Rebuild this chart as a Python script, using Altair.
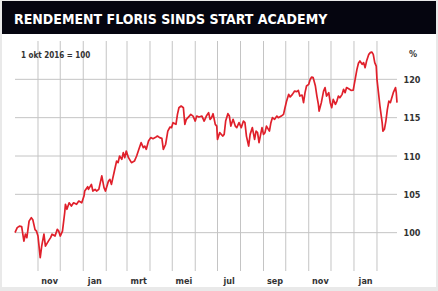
import json
import altair as alt
import pandas as pd

# ---- data ----
title_text = "RENDEMENT FLORIS SINDS START ACADEMY"
index_note = "1 okt 2016 = 100"
start_date = "2016-10-01"

days = [0, 3, 6, 9, 12, 14, 16, 19, 22, 24, 27, 29, 31, 34, 36, 39, 41, 45, 48, 50,
        54, 57, 59, 61, 64, 67, 68, 70, 73, 76, 79, 83, 86, 90, 93, 94, 98, 99, 103, 105,
        108, 110, 113, 117, 120, 122, 126, 128, 130, 134, 137, 139, 141, 144, 146, 148, 150, 153, 157, 161,
        164, 167, 170, 173, 175, 177, 180, 183, 186, 189, 192, 195, 198, 200, 203, 206, 209, 211, 213, 217,
        219, 221, 224, 227, 229, 231, 235, 237, 240, 243, 245, 248, 252, 255, 258, 261, 263, 265, 267, 270,
        272, 273, 276, 280, 282, 284, 287, 289, 291, 294, 297, 299, 302, 305, 308, 310, 312, 315, 317, 320,
        323, 325, 327, 329, 333, 335, 337, 339, 343, 345, 347, 350, 353, 355, 359, 362, 364, 366, 369, 371,
        374, 377, 380, 382, 384, 387, 389, 391, 393, 396, 398, 400, 402, 405, 407, 409, 410, 413, 416, 418,
        420, 423, 425, 427, 429, 432, 434, 436, 438, 441, 443, 445, 447, 451, 453, 456, 459, 461, 463, 465,
        468, 470, 472, 474, 477, 479, 481, 483, 485, 487, 488, 490, 492, 495, 496, 498, 500, 502, 504, 506,
        508, 510, 513, 514, 515]
values = [100.0, 100.65, 100.86, 100.8, 98.9, 99.8, 99.35, 101.5, 101.96, 101.7, 100.4, 100.2, 99.56, 96.74, 98.25, 99.8, 98.25, 98.9, 99.35, 99.8,
          99.56, 100.43, 100.2, 99.56, 100.2, 102.6, 103.7, 103.05, 103.9, 103.47, 103.9, 103.7, 104.12, 103.9, 104.77, 105.43, 106.0, 105.65, 106.3, 105.43,
          105.65, 105.43, 105.65, 107.4, 105.87, 105.43, 106.73, 106.95, 106.3, 108.04, 109.34, 109.13, 110.0, 109.56, 110.44, 109.78, 110.65, 109.78, 109.13, 109.34,
          110.0, 110.87, 111.74, 111.09, 111.3, 110.87, 111.95, 112.4, 112.26, 112.4, 112.6, 112.4, 112.3, 110.87, 111.5, 113.25, 113.78, 113.7, 114.35, 114.13,
          115.43, 116.3, 116.52, 116.3, 114.13, 114.78, 115.21, 115.43, 115.21, 114.56, 115.21, 115.08, 115.21, 114.56, 115.21, 115.66, 114.78, 115.0, 115.52, 114.13,
          113.9, 112.17, 113.05, 112.6, 112.82, 114.56, 115.52, 115.21, 113.9, 114.78, 113.9, 113.7, 114.35, 113.7, 114.56, 114.35, 112.6, 111.3, 112.82, 113.7,
          112.17, 113.25, 113.05, 111.74, 113.7, 112.82, 113.05, 113.9, 113.25, 114.35, 115.0, 114.78, 115.21, 115.0, 115.21, 115.43, 116.3, 117.1, 118.04, 117.7,
          118.04, 118.47, 118.4, 118.56, 117.82, 117.95, 116.96, 118.26, 119.13, 119.35, 120.0, 120.3, 120.22, 119.13, 117.82, 116.74, 115.86, 116.96, 118.47, 118.92,
          117.82, 118.26, 116.96, 116.3, 117.39, 116.74, 117.17, 117.82, 117.6, 118.04, 118.7, 118.26, 118.92, 118.7, 118.56, 118.6, 120.22, 121.3, 122.09, 122.39,
          121.96, 122.18, 121.52, 122.39, 123.26, 123.48, 123.56, 123.26, 122.18, 121.73, 120.0, 118.26, 116.52, 114.35, 113.25, 113.48, 114.56, 116.09, 117.17, 116.96,
          117.61, 118.26, 118.92, 118.26, 116.96]

y_ticks = [100, 105, 110, 115, 120]
month_labels = ["jan", "feb", "mrt", "apr", "mei", "jun", "jul", "aug", "sep", "okt", "nov", "dec"]
label_dates = ["2016-11-16", "2017-01-16", "2017-03-16", "2017-05-16",
               "2017-07-16", "2017-09-16", "2017-11-16", "2018-01-16"]
grid_months = ["2016-11-01", "2016-12-01", "2017-01-01", "2017-02-01", "2017-03-01",
               "2017-04-01", "2017-05-01", "2017-06-01", "2017-07-01", "2017-08-01",
               "2017-09-01", "2017-10-01", "2017-11-01", "2017-12-01", "2018-01-01",
               "2018-02-01"]

# ---- build ----
df = pd.DataFrame({
    "date": (pd.Timestamp(start_date) + pd.to_timedelta(days, unit="D")).strftime("%Y-%m-%dT00:00:00"),
    "value": values,
})
grid_df = pd.DataFrame({"date": [d + "T00:00:00" for d in grid_months]})
ygrid_df = pd.DataFrame({"v": y_ticks})

W, H = 382, 230
FONT = "DejaVu Sans Condensed, Liberation Sans Narrow, Roboto, sans-serif"
RED = "#e0202b"
GRID = "#c4c4c4"
TXT = "#333333"

def dt(s):
    y, m, d = [int(p) for p in s.split("-")]
    return alt.DateTime(year=y, month=m, date=d)

x_scale = alt.Scale(domain=[dt("2016-10-01"), dt("2018-02-28")], nice=False)
y_scale = alt.Scale(domain=[95, 125], nice=False, zero=False)

one = alt.Data(values=[{}])

frame = alt.Chart(one).mark_rect(color="white").encode(
    x=alt.value(-13), x2=alt.value(421), y=alt.value(-39), y2=alt.value(246))
bar = alt.Chart(one).mark_rect(color="#05050f").encode(
    x=alt.value(-13), x2=alt.value(421), y=alt.value(-40), y2=alt.value(-7))
title = alt.Chart(one).mark_text(
    text=title_text, align="left", baseline="alphabetic", font=FONT,
    fontSize=14, fontWeight="bold", color="white").encode(
    x=alt.value(-1), y=alt.value(-17))

vgrid = alt.Chart(grid_df).mark_rule(color=GRID, strokeWidth=1).encode(
    x=alt.X("date:T", scale=x_scale),
    y=alt.value(0), y2=alt.value(H))
hgrid = alt.Chart(ygrid_df).mark_rule(color=GRID, strokeWidth=1).encode(
    y=alt.Y("v:Q", scale=y_scale),
    x=alt.value(0), x2=alt.value(W))

label_expr = json.dumps(month_labels) + "[month(datum.value)]"

line = alt.Chart(df).mark_line(color=RED, strokeWidth=1.7, strokeJoin="round").encode(
    x=alt.X("date:T", scale=x_scale, title=None,
            axis=alt.Axis(values=[dt(d) for d in label_dates], labelExpr=label_expr,
                          grid=False, domain=False, ticks=False, labelPadding=5,
                          labelFont=FONT, labelFontSize=9, labelFontWeight="bold",
                          labelColor=TXT, labelAlign="center", labelBaseline="top",
                          zindex=1)),
    y=alt.Y("value:Q", scale=y_scale, title=None,
            axis=alt.Axis(orient="right", values=y_ticks, grid=False, domain=False,
                          ticks=False, labelPadding=6, labelFont=FONT, labelFontSize=9,
                          labelFontWeight="bold", labelColor=TXT, labelAlign="left",
                          zindex=1)),
)

note = alt.Chart(one).mark_text(
    text=index_note, align="left", baseline="alphabetic", font=FONT,
    fontSize=8, fontWeight="bold", color=TXT).encode(x=alt.value(6), y=alt.value(16.5))
pct = alt.Chart(one).mark_text(
    text="%", align="right", baseline="middle", font=FONT,
    fontSize=9, fontWeight="bold", color=TXT).encode(x=alt.value(402), y=alt.value(13))

chart = alt.layer(frame, bar, title, vgrid, hgrid, line, note, pct).properties(
    width=W, height=H,
    background="#e9e9e9",
    padding={"left": 15, "top": 41, "right": 41, "bottom": 20},
    autosize=alt.AutoSizeParams(type="none"),
).configure_view(stroke=None)

chart.save("out.html", embed_options={"renderer": "svg", "actions": False})
